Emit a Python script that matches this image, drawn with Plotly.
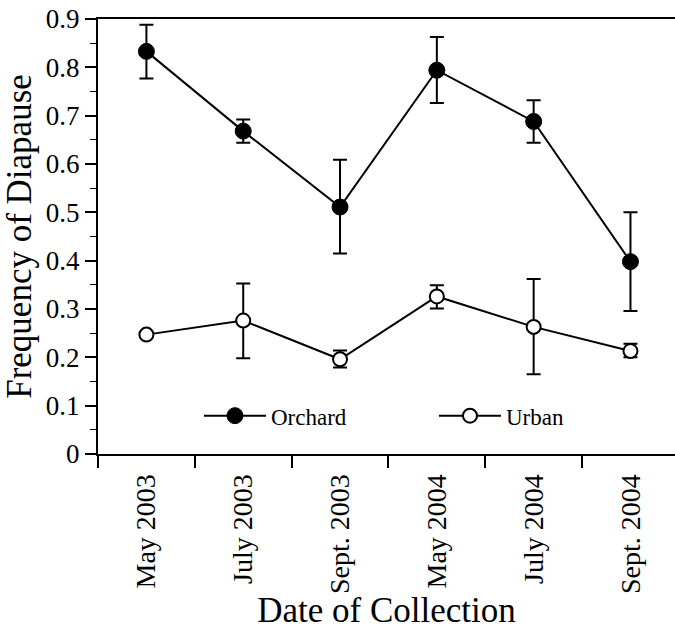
import plotly.graph_objects as go

dates = ["May 2003", "July 2003", "Sept. 2003", "May 2004", "July 2004", "Sept. 2004"]

orchard = [0.833, 0.668, 0.511, 0.794, 0.688, 0.398]
orchard_hi = [0.888, 0.692, 0.609, 0.863, 0.732, 0.500]
orchard_lo = [0.777, 0.644, 0.415, 0.726, 0.644, 0.296]

urban = [0.247, 0.276, 0.196, 0.326, 0.263, 0.213]
urban_hi = [0.247, 0.353, 0.214, 0.349, 0.362, 0.228]
urban_lo = [0.247, 0.198, 0.179, 0.301, 0.165, 0.200]

y_ticks = [0, 0.1, 0.2, 0.3, 0.4, 0.5, 0.6, 0.7, 0.8, 0.9]

FONT = "Liberation Serif"

fig = go.Figure()

fig.add_trace(go.Scatter(
    x=dates, y=orchard, name="Orchard", mode="lines+markers",
    line=dict(color="black", width=2),
    marker=dict(symbol="circle", size=16, color="black", line=dict(color="black", width=1)),
    error_y=dict(type="data", symmetric=False,
                 array=[h - v for h, v in zip(orchard_hi, orchard)],
                 arrayminus=[v - l for v, l in zip(orchard, orchard_lo)],
                 color="black", thickness=2, width=7),
))

fig.add_trace(go.Scatter(
    x=dates, y=urban, name="Urban", mode="lines+markers",
    line=dict(color="black", width=2),
    marker=dict(symbol="circle", size=14, color="white", line=dict(color="black", width=2)),
    error_y=dict(type="data", symmetric=False,
                 array=[h - v for h, v in zip(urban_hi, urban)],
                 arrayminus=[v - l for v, l in zip(urban, urban_lo)],
                 color="black", thickness=2, width=7),
))

fig.update_layout(
    width=675, height=630,
    margin=dict(l=98, r=0, t=19, b=176, pad=0, autoexpand=False),
    paper_bgcolor="white", plot_bgcolor="white",
    font=dict(family=FONT, color="black"),
    showlegend=True,
    legend=dict(
        orientation="h", x=0.175, y=0.088, xanchor="left", yanchor="middle",
        font=dict(family=FONT, size=23, color="black"),
        bgcolor="rgba(0,0,0,0)", borderwidth=0,
        itemwidth=62, entrywidth=158,
    ),
)

fig.update_xaxes(
    type="category", categoryorder="array", categoryarray=dates,
    range=[-0.5, 5.46],
    showline=True, linecolor="black", linewidth=2, mirror=True,
    ticks="outside", tickson="boundaries", ticklen=12, tickwidth=1.5, tickcolor="black",
    tickangle=-90, tickfont=dict(family=FONT, size=28, color="black"),
    ticklabelstandoff=7,
    showgrid=False, zeroline=False,
    title=dict(text="Date of Collection", font=dict(family=FONT, size=35, color="black"), standoff=8),
)

fig.update_yaxes(
    range=[0, 0.9],
    tickmode="array", tickvals=y_ticks, ticktext=[("0" if v == 0 else f"{v:.1f}") for v in y_ticks],
    showline=True, linecolor="black", linewidth=2, mirror=False,
    ticks="outside", ticklen=11, tickwidth=1.5, tickcolor="black",
    tickfont=dict(family=FONT, size=27, color="black"),
    minor=dict(tickmode="linear", tick0=0.05, dtick=0.1, ticks="outside", ticklen=6, tickwidth=1, tickcolor="black", showgrid=False),
    showgrid=False, zeroline=False,
    title=dict(text="Frequency of Diapause", font=dict(family=FONT, size=35, color="black"), standoff=4),
)

fig.write_html("out.html")
